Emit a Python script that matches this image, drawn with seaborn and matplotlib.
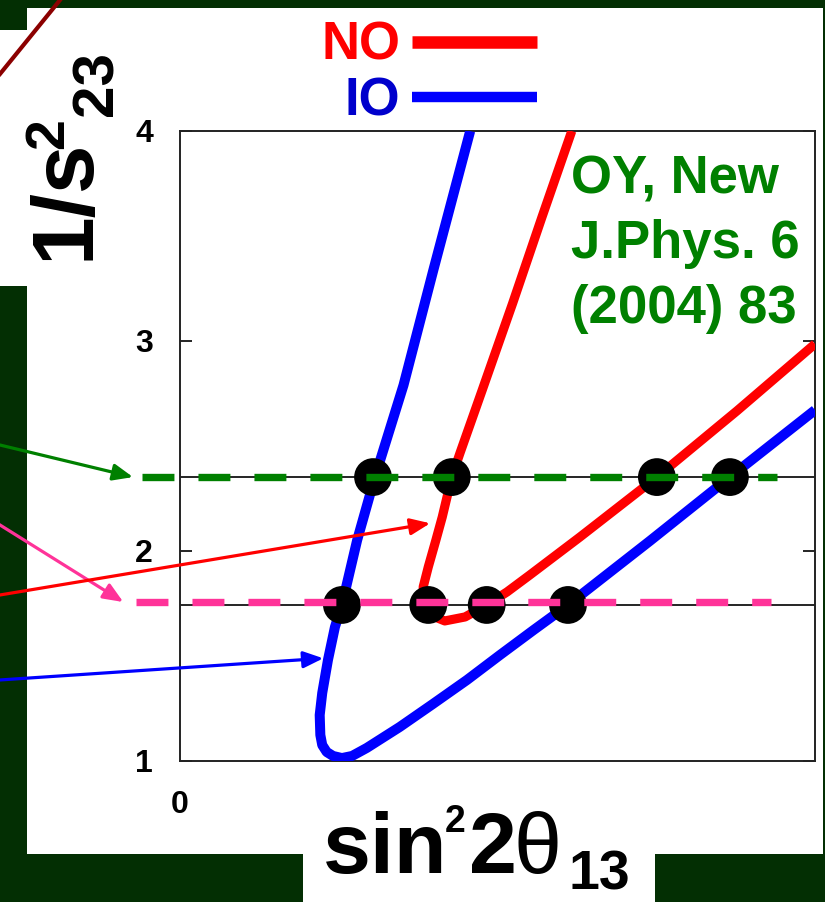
import matplotlib
matplotlib.use("Agg")
import matplotlib.pyplot as plt
import seaborn as sns
import pandas as pd
from matplotlib.patches import Rectangle
from matplotlib.lines import Line2D

# ---------------- data ----------------
# inverted ordering (IO) curve
io_x = [0.457, 0.399, 0.352, 0.307, 0.279, 0.255, 0.244, 0.233, 0.224, 0.220,
        0.221, 0.224, 0.231, 0.241, 0.255, 0.271, 0.294, 0.346, 0.398, 0.452,
        0.504, 0.557, 0.611, 0.740, 0.866, 1.000]
io_y = [4.000, 3.338, 2.790, 2.352, 2.052, 1.743, 1.638, 1.481, 1.324, 1.219,
        1.124, 1.076, 1.043, 1.024, 1.014, 1.024, 1.062, 1.162, 1.271, 1.386,
        1.505, 1.624, 1.743, 2.048, 2.352, 2.671]
# normal ordering (NO) curve
no_x = [0.617, 0.570, 0.524, 0.476, 0.441, 0.428, 0.413, 0.403, 0.391, 0.383,
        0.384, 0.394, 0.417, 0.449, 0.483, 0.515, 0.551, 0.630, 0.751, 0.877,
        1.000]
no_y = [4.000, 3.590, 3.181, 2.767, 2.467, 2.352, 2.162, 2.052, 1.924, 1.829,
        1.752, 1.695, 1.667, 1.686, 1.743, 1.805, 1.886, 2.067, 2.352, 2.667,
        2.986]

# horizontal reference levels of 1/s^2_23
level_hi = 2.352
level_lo = 1.743
# intersection dots
dots_hi_x = [0.304, 0.428, 0.751, 0.866]
dots_lo_x = [0.255, 0.391, 0.483, 0.611]
# dashed guide lines (extend left of the frame)
green_x = [-0.0603, 0.940]
green_y = [2.352, 2.352]
pink_x = [-0.0693, 0.931]
pink_y = [1.757, 1.757]
# arrow tips (data) coming in from the left edge
arrow_tip_x = [-0.0740, -0.0893, 0.394, 0.2257]
arrow_tip_y = [2.352, 1.757, 2.132, 1.489]
arrow_colors = ["#008000", "#ff3399", "#ff0000", "#0000ff"]

y_ticks = [1, 2, 3, 4]
x_ticks = [0]
x_tick_labels = ["0"]
legend_labels = ["NO", "IO"]
citation = "OY, New\nJ.Phys. 6\n(2004) 83"

# ---------------- styling ----------------
sns.set_theme(style="white")
plt.rcParams["font.family"] = ["Liberation Sans", "DejaVu Sans"]
plt.rcParams["lines.scale_dashes"] = False

W, H = 825, 902
DARK = "#032f03"


def fx(px):
    return px / W


def fy(py):
    return 1 - py / H


fig = plt.figure(figsize=(W / 100, H / 100), dpi=100, facecolor=DARK)

# white slide panels
for (x0, y0, x1, y1) in [(27, 8, 823, 853.5), (-2, 30, 28, 286), (303, 853, 655, 905)]:
    fig.add_artist(Rectangle((fx(x0), fy(y1)), (x1 - x0) / W, (y1 - y0) / H,
                             transform=fig.transFigure, facecolor="white",
                             edgecolor="none", zorder=-5))

# dark red diagonal stroke in the top-left corner
fig.add_artist(Line2D([fx(-10), fx(70)], [fy(74 + 12.3), fy(74 - 86.3)],
                      transform=fig.transFigure, color="#8b0000", lw=3.0, zorder=-4))

ax = fig.add_axes([fx(180), fy(761), 635 / W, 630 / H])
ax.set_facecolor("white")
ax.set_xlim(0, 1)
ax.set_ylim(1, 4)

# black reference levels
ax.axhline(level_hi, color="black", lw=1.2, zorder=1.5)
ax.axhline(level_lo, color="black", lw=1.2, zorder=1.5)

# curves
df_io = pd.DataFrame({"x": io_x, "y": io_y})
df_no = pd.DataFrame({"x": no_x, "y": no_y})
sns.lineplot(data=df_io, x="x", y="y", sort=False, estimator=None, color="#0000ff",
             lw=7.2, solid_capstyle="butt", solid_joinstyle="round", zorder=3, ax=ax)
sns.lineplot(data=df_no, x="x", y="y", sort=False, estimator=None, color="#ff0000",
             lw=6.6, solid_capstyle="butt", solid_joinstyle="round", zorder=3, ax=ax)

# dots
df_dots = pd.DataFrame({"x": dots_hi_x + dots_lo_x,
                        "y": [level_hi] * len(dots_hi_x) + [level_lo] * len(dots_lo_x)})
sns.scatterplot(data=df_dots, x="x", y="y", s=740, color="black", edgecolor="none",
                zorder=4, ax=ax)

# dashed guides
ax.plot(green_x, green_y, color="#008000", lw=5.3, dashes=(23, 17.3),
        dash_capstyle="butt", clip_on=False, zorder=5)
ax.plot(pink_x, pink_y, color="#ff3399", lw=5.3, dashes=(23, 17.3),
        dash_capstyle="butt", clip_on=False, zorder=5)

# arrows coming from outside the left edge
arrow_starts = [(-20, H - 440.2), (-20, H - 512.5), (-20, H - 598.3), (-20, H - 681.3)]
for tx, ty, c, st in zip(arrow_tip_x, arrow_tip_y, arrow_colors, arrow_starts):
    ax.annotate("", xy=(tx, ty), xycoords="data", xytext=st, textcoords="figure pixels",
                arrowprops=dict(arrowstyle="-|>,head_length=12,head_width=5",
                                color=c, lw=2.3, shrinkA=0, shrinkB=0, mutation_scale=1),
                annotation_clip=False, zorder=6)

# axes frame and ticks
for sp in ax.spines.values():
    sp.set_visible(True)
    sp.set_color("#222222")
    sp.set_linewidth(1.4)
ax.set_yticks(y_ticks)
ax.set_xticks(x_ticks)
ax.set_xticklabels(x_tick_labels)
ax.tick_params(axis="y", direction="in", length=8.5, width=1.2, left=True, right=True,
               labelsize=23, pad=19.5, colors="black")
ax.tick_params(axis="x", length=0, labelsize=23, pad=21, colors="black")
for lab in ax.get_yticklabels() + ax.get_xticklabels():
    lab.set_fontweight("bold")
ax.set_xlabel("")
ax.set_ylabel("")
ax.grid(False)

# legend (NO / IO)
handles = [Line2D([], [], color="#ff0000", lw=9, solid_capstyle="butt"),
           Line2D([], [], color="#0000ff", lw=7.5, solid_capstyle="butt")]
ax.legend(handles, legend_labels, loc="upper right",
          bbox_to_anchor=(fx(537), fy(21)), bbox_transform=fig.transFigure,
          frameon=False, markerfirst=False, handlelength=2.36, handletextpad=0.23,
          labelspacing=0.1, borderpad=0, borderaxespad=0,
          prop={"family": "Liberation Sans", "weight": "bold", "size": 38},
          labelcolor=["#ff0000", "#0000cc"])

# citation
fig.text(fx(571), fy(154), citation, color="#008000", fontsize=38, fontweight="bold",
         ha="left", va="top", linespacing=1.39, family="Liberation Sans")

# y label: 1/s^2_23 (rotated)
yl = dict(rotation=90, rotation_mode="anchor", ha="left", va="baseline",
          fontweight="bold", color="black", family="Liberation Sans")
fig.text(fx(89), fy(260), "1/s", fontsize=63, **yl)
fig.text(fx(63), fy(149), "2", fontsize=40, **yl)
fig.text(fx(112), fy(116), "23", fontsize=42, **yl)

# x label: sin^2 2θ_13
xl = dict(ha="left", va="baseline", color="black", family="Liberation Sans")
fig.text(fx(322.5), fy(873), "sin", fontsize=62, fontweight="bold", **xl)
fig.text(fx(445), fy(832), "2", fontsize=27, fontweight="bold", **xl)
fig.text(fx(469.5), fy(873), "2", fontsize=62, fontweight="bold", **xl)
fig.text(fx(513), fy(873), "\u03b8", fontsize=62, fontweight="normal", **xl)
fig.text(fx(568), fy(889), "13", fontsize=40, fontweight="bold", **xl)

fig.savefig("out.png", dpi=100, facecolor=DARK)
